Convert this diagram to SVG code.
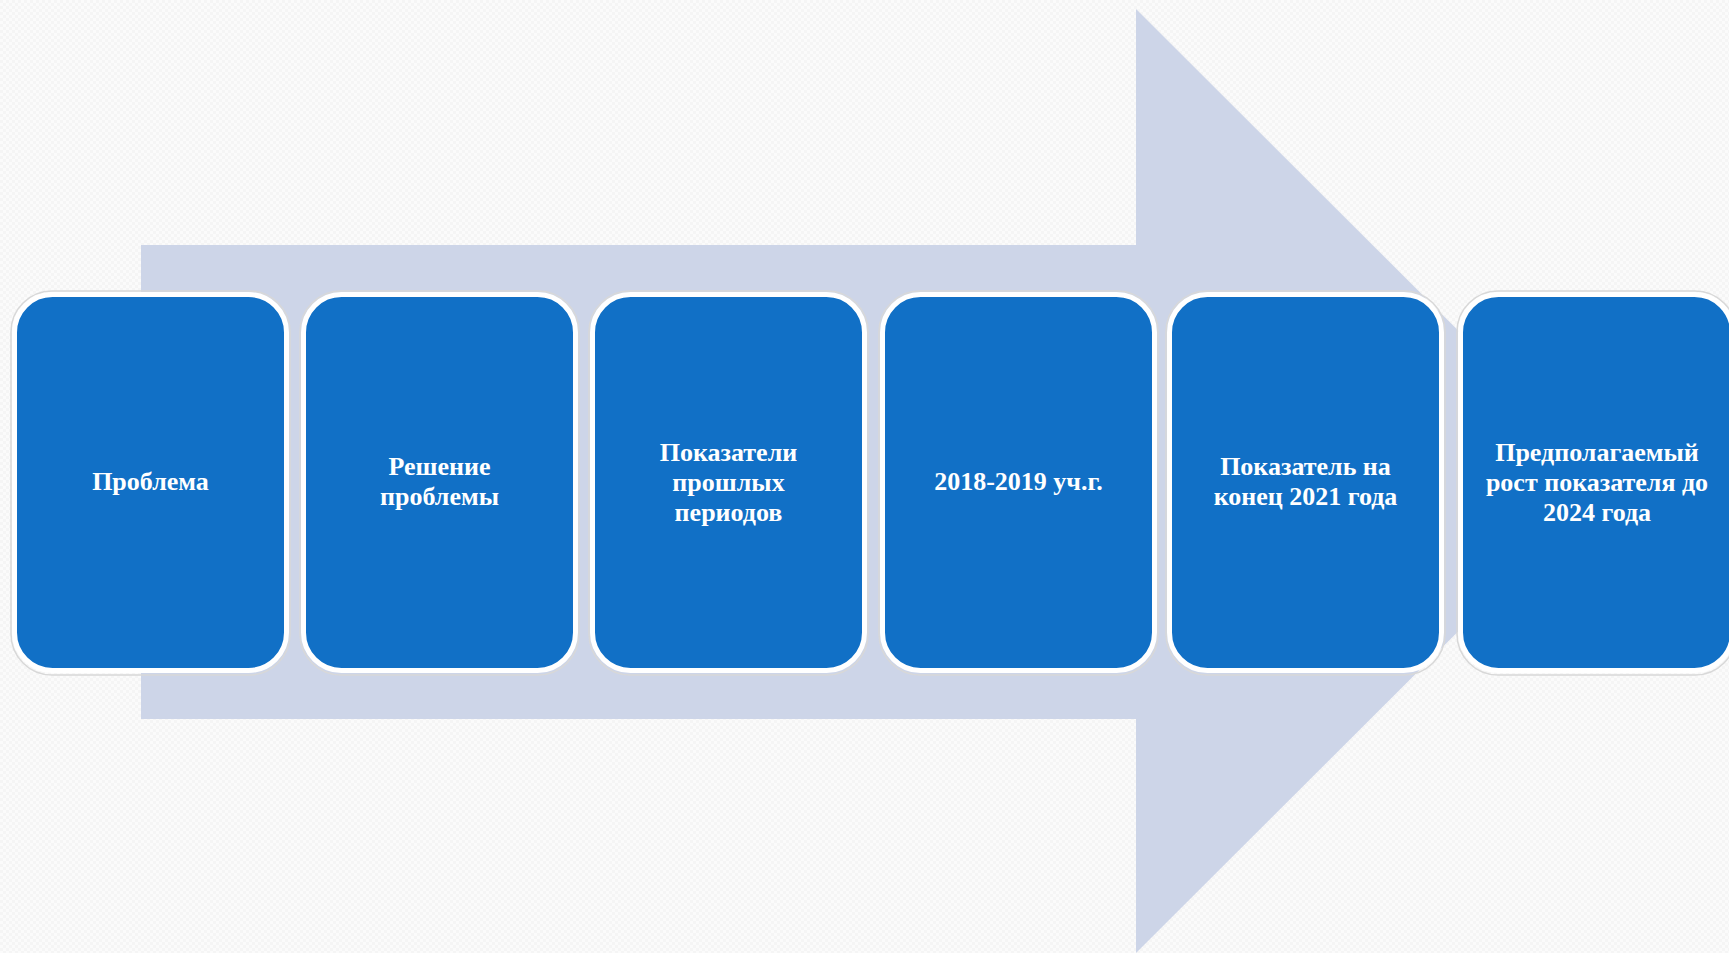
<svg xmlns="http://www.w3.org/2000/svg" width="1729" height="953" viewBox="0 0 1729 953">
<defs>
<style>
.box{fill:#1170C6;stroke:#FFFFFF;stroke-width:5}
.shadow{fill:none;stroke:#D8D8D8;stroke-width:1.5}
.lbl{font-family:"Liberation Serif","Times New Roman",serif;font-weight:bold;font-size:26px;fill:#FFFFFF;text-anchor:middle}
</style>
<pattern id="bg" width="6" height="6" patternUnits="userSpaceOnUse">
<rect width="6" height="6" fill="#FBFBFB"/>
<rect width="3" height="3" fill="#F5F5F5"/>
<rect x="3" y="3" width="3" height="3" fill="#F5F5F5"/>
</pattern>
</defs>
<rect width="1729" height="953" fill="url(#bg)"/>
<g id="connectors">
<path d="M141,245 H1136 V9 L1609,481 L1136,953 V719 H141 Z" fill="#CDD5E8"/>
</g>
<g id="node1">
<rect class="shadow" x="11" y="291" width="279" height="384" rx="41"/>
<rect class="box" x="14.5" y="294.5" width="272" height="376" rx="38"/>
<text class="lbl" x="150.5" y="490">Проблема</text>
</g>
<g id="node2">
<rect class="shadow" x="300" y="291" width="279" height="384" rx="41"/>
<rect class="box" x="303.5" y="294.5" width="272" height="376" rx="38"/>
<text class="lbl" x="439.5" y="475">Решение</text>
<text class="lbl" x="439.5" y="505">проблемы</text>
</g>
<g id="node3">
<rect class="shadow" x="589" y="291" width="279" height="384" rx="41"/>
<rect class="box" x="592.5" y="294.5" width="272" height="376" rx="38"/>
<text class="lbl" x="728.5" y="461">Показатели</text>
<text class="lbl" x="728.5" y="491">прошлых</text>
<text class="lbl" x="728.5" y="521">периодов</text>
</g>
<g id="node4">
<rect class="shadow" x="879" y="291" width="279" height="384" rx="41"/>
<rect class="box" x="882.5" y="294.5" width="272" height="376" rx="38"/>
<text class="lbl" x="1018.5" y="490">2018-2019 уч.г.</text>
</g>
<g id="node5">
<rect class="shadow" x="1166" y="291" width="279" height="384" rx="41"/>
<rect class="box" x="1169.5" y="294.5" width="272" height="376" rx="38"/>
<text class="lbl" x="1305.5" y="475">Показатель на</text>
<text class="lbl" x="1305.5" y="505">конец 2021 года</text>
</g>
<g id="node6">
<rect class="shadow" x="1457" y="291" width="279" height="384" rx="41"/>
<rect class="box" x="1460.5" y="294.5" width="272" height="376" rx="38"/>
<text class="lbl" x="1597" y="461">Предполагаемый</text>
<text class="lbl" x="1597" y="491">рост показателя до</text>
<text class="lbl" x="1597" y="521">2024 года</text>
</g>
</svg>
